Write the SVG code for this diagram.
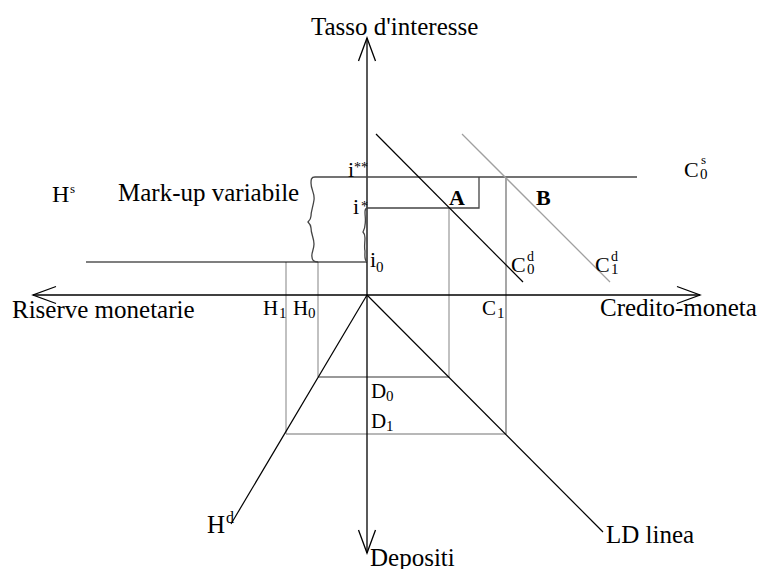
<svg xmlns="http://www.w3.org/2000/svg" width="760" height="569" viewBox="0 0 760 569">
<defs>
<style>
text{font-family:"Liberation Serif","Times New Roman",serif;fill:#000}
.lg{font-size:25px}
.md{font-size:21px}
.sb{font-size:15px}
.sp{font-size:14px}
.bd{font-weight:bold;font-size:22px}
.ax{stroke:#000;stroke-width:1.3;fill:none}
.blk{stroke:#000;stroke-width:1.2;fill:none}
.dk{stroke:#444;stroke-width:1.3;fill:none}
.mid{stroke:#777;stroke-width:1.3;fill:none}
.lt{stroke:#a0a0a0;stroke-width:1.3;fill:none}
</style>
<marker id="arr" markerUnits="userSpaceOnUse" markerWidth="40" markerHeight="40" refX="0" refY="0" orient="auto" viewBox="-30 -15 40 30" overflow="visible">
<path d="M-23,-8.5 L0,0 L-23,8.5" fill="none" stroke="#000" stroke-width="1.3"/>
</marker>
</defs>
<rect width="760" height="569" fill="#fff"/>

<g id="guides">
<line class="lt" x1="286" y1="262" x2="286" y2="434"/>
<line class="lt" x1="318" y1="262" x2="318" y2="377"/>
<line class="lt" x1="449" y1="208" x2="449" y2="377"/>
<line class="mid" x1="506" y1="177" x2="506" y2="434"/>
<line class="mid" x1="318" y1="377" x2="449" y2="377"/>
<line class="lt" x1="286" y1="434" x2="506" y2="434"/>
</g>

<g id="axes">
<line class="ax" x1="367" y1="295" x2="367" y2="38" marker-end="url(#arr)"/>
<line class="ax" x1="367" y1="295" x2="367" y2="553" marker-end="url(#arr)"/>
<line class="ax" x1="367" y1="295" x2="33" y2="295" marker-end="url(#arr)"/>
<line class="ax" x1="367" y1="295" x2="700" y2="295" marker-end="url(#arr)"/>
</g>

<g id="curves">
<line class="blk" x1="86" y1="262" x2="367" y2="262"/>
<line class="dk" x1="315" y1="177" x2="637" y2="177"/>
<polyline class="dk" points="367,208 479,208 479,177"/>
<line class="blk" x1="376" y1="134" x2="523" y2="282"/>
<line class="lt" x1="462" y1="134" x2="610" y2="282"/>
<line class="blk" x1="367" y1="295" x2="231" y2="524"/>
<line class="blk" x1="367" y1="295" x2="603" y2="532"/>
<path class="dk" d="M315,177 C311,177 311,180 311,183 C311,190 315,193 314,200 C313,207 311,211 311,216 C311,219 309,221 308,222 C309,223 311,225 311,228 C311,234 314,238 314,244 C314,250 311,253 312,257 C312,261 314,262 318,262"/>
<path class="dk" d="M368,208 C366,208 365,209 365,212 C365,217 366,220 365,225 C365,228 364,230 363,232 C364,233 365,235 365,238 C365,243 364,247 365,251 C365,256 364,260 367,262"/>
</g>

<g id="labels">
<text class="lg" x="311" y="35">Tasso d'interesse</text>
<text x="52" y="202" style="font-size:24px">H<tspan x="70" y="193" style="font-size:13px">s</tspan></text>
<text class="lg" x="118" y="201">Mark-up variabile</text>
<text class="lg" x="12" y="318">Riserve monetarie</text>
<text class="md" x="263" y="315">H<tspan class="sb" x="279" y="318">1</tspan></text>
<text class="md" x="293" y="315">H<tspan class="sb" x="308" y="318">0</tspan></text>
<text class="md" x="482" y="315">C<tspan class="sb" x="497" y="318">1</tspan></text>
<text class="lg" x="600" y="316">Credito-moneta</text>
<text style="font-size:22px" x="684" y="177">C<tspan style="font-size:13px" x="701" y="164">s</tspan><tspan class="sb" x="700" y="179">0</tspan></text>
<text class="bd" x="449" y="205">A</text>
<text class="bd" x="536" y="205">B</text>
<text style="font-size:22px" x="511" y="272">C<tspan class="sp" x="527" y="261">d</tspan><tspan class="sb" x="527" y="274">0</tspan></text>
<text style="font-size:22px" x="595" y="272">C<tspan class="sp" x="611" y="261">d</tspan><tspan class="sb" x="611" y="274">1</tspan></text>
<text style="font-size:22px" x="348" y="177">i<tspan style="font-size:14px" x="354" y="172">**</tspan></text>
<text style="font-size:22px" x="353" y="214">i<tspan style="font-size:14px" x="361" y="211">*</tspan></text>
<text style="font-size:22px" x="370" y="267">i<tspan class="sb" x="376" y="272">0</tspan></text>
<text class="md" x="371" y="398">D<tspan class="sb" x="386" y="401">0</tspan></text>
<text class="md" x="371" y="428">D<tspan class="sb" x="386" y="431">1</tspan></text>
<text class="lg" x="207" y="533">H<tspan style="font-size:16px" x="226" y="523">d</tspan></text>
<text class="lg" x="606" y="543">LD linea</text>
<text class="lg" x="370" y="566">Depositi</text>
</g>
</svg>
